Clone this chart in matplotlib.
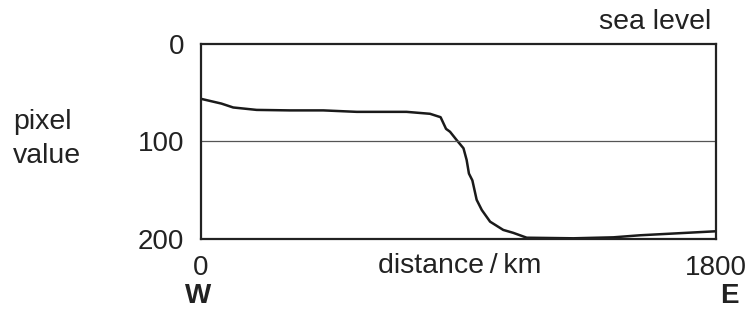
import matplotlib.pyplot as plt

plt.rcParams['font.family'] = ['Liberation Sans', 'DejaVu Sans']

# profile: distance (km) and pixel value
distance = [0, 73, 114, 196, 312, 429, 546, 720, 802, 839, 858, 872, 895, 919,
            930, 938, 950, 965, 983, 1012, 1058, 1093, 1140, 1303, 1443, 1536, 1800]
pixel = [56, 61, 65, 67.5, 68, 68, 69.5, 69.5, 71.5, 75, 87, 90, 98.5, 107,
         119, 133, 140, 160, 170.5, 182.5, 191, 194, 199, 199.6, 198.6, 196.5, 192.4]

y_ticks = [0, 100, 200]
sea_line = 100

fig = plt.figure(figsize=(7.54, 3.12), dpi=100)
ax = fig.add_axes([0.266, 0.235, 0.683, 0.623])

ax.plot(distance, pixel, color='#1a1a1a', lw=1.8, solid_joinstyle='round')
ax.axhline(sea_line, color='#555555', lw=0.9)

ax.set_xlim(0, 1800)
ax.set_ylim(200, 0)
ax.set_yticks(y_ticks)
ax.set_yticklabels([str(t) for t in y_ticks], fontsize=20, color='#222222')
ax.set_xticks([0, 1800])
ax.set_xticklabels(['0', '1800'], fontsize=20, color='#222222')
ax.tick_params(length=0, pad=12)
ax.tick_params(axis='x', pad=12)
for s in ax.spines.values():
    s.set_linewidth(1.6)
    s.set_color('#222222')

fig.text(0.943, 0.93, 'sea level', ha='right', va='center', fontsize=20.5, color='#222222')
fig.text(0.017, 0.61, 'pixel', ha='left', va='center', fontsize=20.5, color='#222222')
fig.text(0.017, 0.50, 'value', ha='left', va='center', fontsize=20.5, color='#222222')
fig.text(0.61, 0.147, 'distance\u2009/\u2009km', ha='center', va='center', fontsize=20.5, color='#222222')
fig.text(0.263, 0.05, 'W', ha='center', va='center', fontsize=20, fontweight='bold', color='#222222')
fig.text(0.967, 0.05, 'E', ha='center', va='center', fontsize=20, fontweight='bold', color='#222222')

fig.savefig('out.png', dpi=100)
